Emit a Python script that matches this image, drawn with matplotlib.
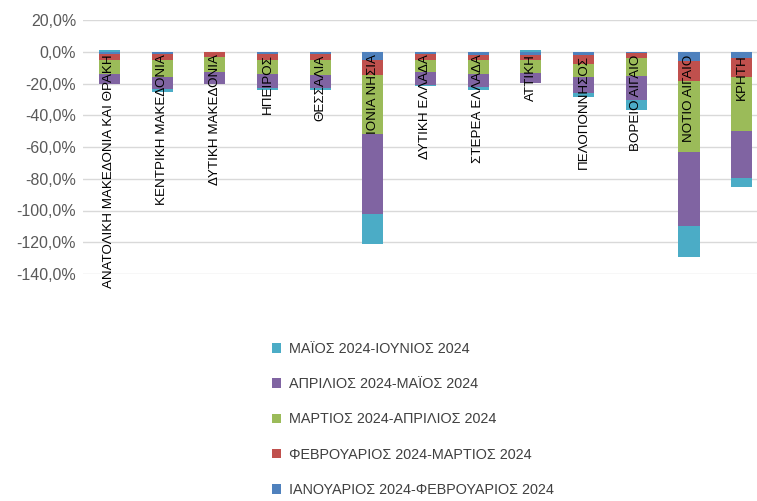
import matplotlib.pyplot as plt
import numpy as np

# data (percent change)
regions = ["ΑΝΑΤΟΛΙΚΗ ΜΑΚΕΔΟΝΙΑ ΚΑΙ ΘΡΑΚΗ", "ΚΕΝΤΡΙΚΗ ΜΑΚΕΔΟΝΙΑ", "ΔΥΤΙΚΗ ΜΑΚΕΔΟΝΙΑ",
           "ΗΠΕΙΡΟΣ", "ΘΕΣΣΑΛΙΑ", "ΙΟΝΙΑ ΝΗΣΙΑ", "ΔΥΤΙΚΗ ΕΛΛΑΔΑ", "ΣΤΕΡΕΑ ΕΛΛΑΔΑ",
           "ΑΤΤΙΚΗ", "ΠΕΛΟΠΟΝΝΗΣΟΣ", "ΒΟΡΕΙΟ ΑΙΓΑΙΟ", "ΝΟΤΙΟ ΑΙΓΑΙΟ", "ΚΡΗΤΗ"]
jan_feb = [-1.5, -1.5, -0.2, -1.7, -1.2, -5.0, -1.2, -1.9, -2.3, -1.8, -1.0, -5.7, -4.2]
feb_mar = [-3.5, -4.0, -3.0, -3.3, -4.2, -9.5, -3.8, -3.6, -3.0, -6.0, -3.2, -12.6, -12.0]
mar_apr = [-9.0, -10.5, -9.5, -8.8, -9.0, -37.4, -8.0, -8.6, -8.0, -8.4, -11.0, -45.0, -33.9]
apr_may = [-6.0, -7.5, -7.3, -9.0, -8.4, -50.5, -7.8, -7.8, -6.5, -10.0, -15.5, -46.2, -29.4]
may_jun = [0.8, -2.0, -0.3, -1.5, -1.5, -18.7, -1.0, -2.0, 1.2, -2.5, -6.0, -20.0, -5.9]

series = [jan_feb, feb_mar, mar_apr, apr_may, may_jun]
labels = ["ΙΑΝΟΥΑΡΙΟΣ 2024-ΦΕΒΡΟΥΑΡΙΟΣ 2024", "ΦΕΒΡΟΥΑΡΙΟΣ 2024-ΜΑΡΤΙΟΣ 2024",
          "ΜΑΡΤΙΟΣ 2024-ΑΠΡΙΛΙΟΣ 2024", "ΑΠΡΙΛΙΟΣ 2024-ΜΑΪΟΣ 2024", "ΜΑΪΟΣ 2024-ΙΟΥΝΙΟΣ 2024"]
colors = ["#4F81BD", "#C0504D", "#9BBB59", "#8064A2", "#4BACC6"]

plt.rcParams['font.family'] = ['Liberation Sans', 'DejaVu Sans']

fig = plt.figure(figsize=(7.57, 5.01), dpi=100)
ax = fig.add_axes([83 / 757, 1 - 274 / 501, 685 / 757, 254 / 501])

ind = np.arange(len(regions))
width = 0.4
pos_bottom = np.zeros(len(regions))
neg_bottom = np.zeros(len(regions))
handles = []
for vals, lab, col in zip(series, labels, colors):
    vals = np.array(vals)
    bottom = np.where(vals >= 0, pos_bottom, neg_bottom)
    h = ax.bar(ind, vals, width, bottom=bottom, color=col, label=lab, zorder=3)
    handles.append(h)
    pos_bottom += np.where(vals >= 0, vals, 0)
    neg_bottom += np.where(vals < 0, vals, 0)

# category labels hang just below the zero line
for i, name in enumerate(regions):
    ax.text(i, -1.8, name, rotation=90, ha='center', va='top', fontsize=9.6,
            color='black', zorder=4)

ax.set_xlim(-0.5, len(regions) - 0.5)
ax.set_ylim(-140, 20)
ax.set_yticks(np.arange(-140, 21, 20))
ax.set_yticklabels([f"{v:.1f}%".replace('.', ',') for v in np.arange(-140, 21, 20)])
ax.tick_params(axis='y', length=0, labelsize=11.5, labelcolor='#595959', pad=5)
ax.set_xticks([])
ax.grid(axis='y', color='#D9D9D9', linewidth=1, zorder=0)
for s in ax.spines.values():
    s.set_visible(False)

fig.legend(handles[::-1], labels[::-1], loc='upper left',
           bbox_to_anchor=(259 / 757, 1 - 329 / 501), frameon=False,
           fontsize=10.4, labelspacing=1.47, handlelength=0.65, handleheight=0.65,
           handletextpad=0.5, labelcolor='#404040')

plt.savefig("out.png", dpi=100)
plt.close()
